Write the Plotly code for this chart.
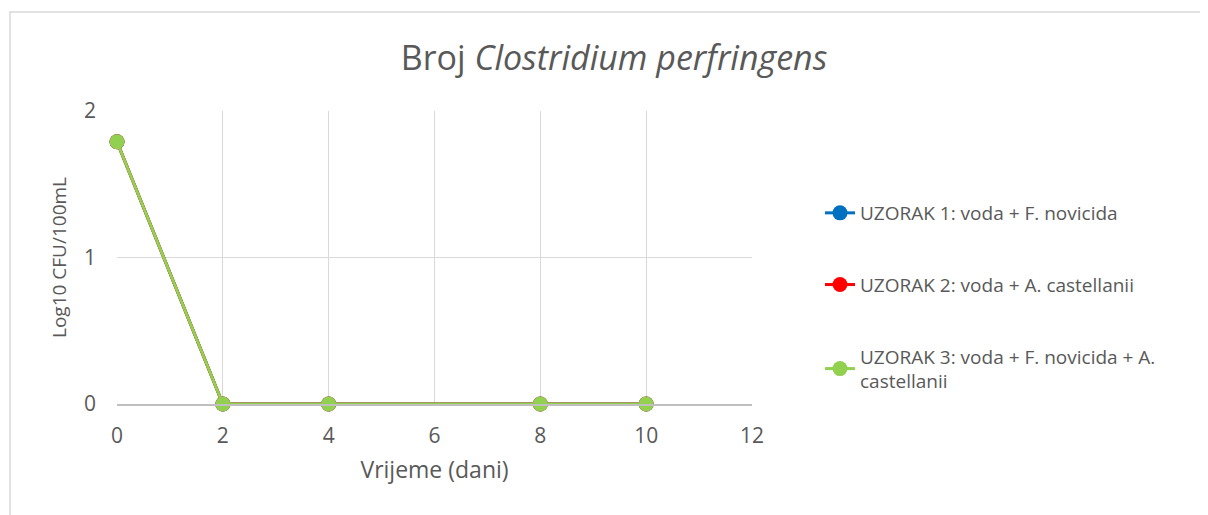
import plotly.graph_objects as go

days = [0, 2, 4, 8, 10]
uzorak1 = [1.79, 0, 0, 0, 0]
uzorak2 = [1.79, 0, 0, 0, 0]
uzorak3 = [1.79, 0, 0, 0, 0]
names = ["UZORAK 1: voda + F. novicida",
         "UZORAK 2: voda + A. castellanii",
         "UZORAK 3: voda + F. novicida + A.<br>castellanii"]
colors = ["#0070C0", "#FF0000", "#92D050"]
x_ticks = [0, 2, 4, 6, 8, 10, 12]
y_ticks = [0, 1, 2]

FONT = "Open Sans, Liberation Sans, sans-serif"
TXT = "#595959"

fig = go.Figure()
for i, (ys, nm, c) in enumerate(zip([uzorak1, uzorak2, uzorak3], names, colors)):
    fig.add_trace(go.Scatter(
        x=days, y=ys, name=nm, mode="lines+markers",
        line=dict(color=c, width=3),
        marker=dict(color=c, size=15),
        legendgroup=f"g{i}", cliponaxis=False))

# page has an 8px body margin, so figure coordinates = page coordinates - 8
W, H = 1200, 507
L, R, T, B = 109, 744, 103, 396
pw, ph = R - L, B - T

fig.update_layout(
    width=W, height=H,
    margin=dict(l=L, r=W - R, t=T, b=H - B),
    paper_bgcolor="white", plot_bgcolor="white",
    font=dict(family=FONT, color=TXT, size=19),
    title=dict(text="Broj <i>Clostridium perfringens</i>",
               x=606 / W, xanchor="center", y=1 - 50 / H, yanchor="middle",
               font=dict(size=34, color=TXT)),
    xaxis=dict(range=[0, 12], tickvals=x_ticks, showgrid=True,
               gridcolor="#D9D9D9", gridwidth=1, zeroline=False,
               showline=True, linecolor="#BFBFBF", linewidth=1.5,
               ticks="", ticklabelstandoff=12, tickfont=dict(size=21),
               title=dict(text="Vrijeme (dani)", font=dict(size=23, color=TXT), standoff=14)),
    yaxis=dict(range=[0, 2], tickvals=y_ticks, showgrid=True,
               gridcolor="#D9D9D9", gridwidth=1, zeroline=False,
               showline=False, ticks="", ticklabelstandoff=20, tickfont=dict(size=21),
               title=dict(text="Log10 CFU/100mL", font=dict(size=19, color=TXT), standoff=12)),
    legend=dict(x=(812 - L) / pw, xanchor="left", y=(B - 186) / ph, yanchor="top",
                font=dict(size=19, color=TXT), tracegroupgap=44,
                bgcolor="rgba(0,0,0,0)"),
    shapes=[dict(type="rect", xref="paper", yref="paper",
                 x0=(2 - L) / pw, x1=(1220 - L) / pw,
                 y0=(B - 530) / ph, y1=(B - 4) / ph,
                 line=dict(color="#D9D9D9", width=1.5), layer="below")],
)

fig.write_html("out.html")
